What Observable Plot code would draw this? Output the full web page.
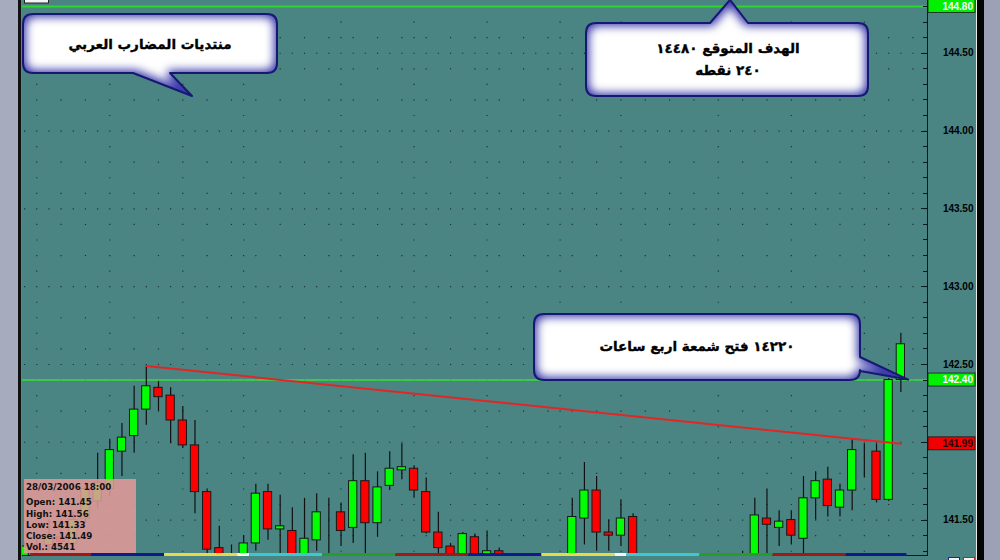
<!DOCTYPE html>
<html>
<head>
<meta charset="utf-8">
<script src="https://cdn.jsdelivr.net/npm/d3@7"></script>
<script src="https://cdn.jsdelivr.net/npm/@observablehq/plot@0.6"></script>
<style>
  html, body { margin: 0; padding: 0; background: #4a8583; overflow: hidden; }
  #chart { position: relative; width: 1000px; height: 560px; }
  #chart svg { display: block; }
</style>
</head>
<body>
<div id="chart"></div>
<script>
// USD/JPY 4-hour candles, oldest first (index = candle slot on the time axis)
const opens  = [141.27,141.34,141.34,141.39,141.35,141.51,141.62,141.70,141.94,142.04,
                142.21,142.35,142.30,142.14,141.98,141.68,141.32,141.26,141.25,141.35,
                141.68,141.44,141.43,141.25,141.37,141.55,141.55,141.45,141.75,141.48,
                141.72,141.82,141.83,141.68,141.42,141.33,141.25,141.39,141.25,141.30,
                141.26,141.18,141.12,141.16,141.14,141.22,141.51,141.69,141.42,141.40,
                141.52,141.24,141.16,141.10,141.14,141.20,141.13,141.18,141.21,141.19,
                141.24,141.51,141.45,141.50,141.38,141.64,141.76,141.58,141.69,141.93,
                141.94,141.63,142.40];
const highs  = [141.36,141.38,141.50,141.44,141.55,141.74,141.93,142.02,142.12,142.36,
                142.49,142.39,142.35,142.23,142.14,141.70,141.46,141.34,141.40,141.73,
                141.73,141.66,141.58,141.64,141.67,141.64,141.61,141.92,141.93,141.81,
                141.94,141.99,141.85,141.77,141.55,141.35,141.42,141.41,141.43,141.32,
                141.27,141.24,141.20,141.25,141.27,141.64,141.87,141.78,141.50,141.63,
                141.54,141.27,141.22,141.18,141.24,141.26,141.22,141.25,141.27,141.30,
                141.64,141.70,141.56,141.56,141.78,141.81,141.84,141.73,142.02,141.99,
                141.99,142.41,142.70];
const lows   = [141.22,141.26,141.30,141.32,141.32,141.48,141.58,141.65,141.78,141.93,
                142.11,142.20,141.99,141.96,141.54,141.26,141.22,141.18,141.20,141.30,
                141.37,141.25,141.22,141.22,141.30,141.26,141.33,141.35,141.25,141.39,
                141.69,141.76,141.64,141.41,141.25,141.20,141.20,141.20,141.20,141.18,
                141.12,141.08,141.05,141.10,141.08,141.18,141.34,141.30,141.30,141.33,
                141.18,141.12,141.06,141.02,141.08,141.10,141.05,141.10,141.14,141.12,
                141.20,141.26,141.33,141.34,141.28,141.50,141.52,141.52,141.56,141.77,
                141.61,141.62,142.32];
const closes = [141.33,141.30,141.40,141.36,141.50,141.70,141.74,141.95,142.03,142.21,
                142.36,142.29,142.14,141.98,141.68,141.31,141.27,141.22,141.35,141.67,
                141.44,141.46,141.26,141.38,141.55,141.55,141.43,141.75,141.48,141.71,
                141.83,141.84,141.69,141.42,141.32,141.25,141.41,141.25,141.30,141.26,
                141.18,141.12,141.16,141.14,141.22,141.52,141.69,141.42,141.40,141.51,
                141.24,141.16,141.10,141.14,141.20,141.13,141.18,141.21,141.19,141.24,
                141.53,141.47,141.49,141.40,141.64,141.75,141.59,141.69,141.95,141.93,
                141.63,142.40,142.63];

// candle under the cursor, shown in the data window
const cursorIndex = 62;
const cursorStamp = "28/03/2006 18:00";
const cursorVolume = 4541;

// price axis labels and horizontal levels
const priceLabels = [141.5, 142.5, 143.0, 143.5, 144.0, 144.5];
const targetLevel = 144.80;
const openLevel = 142.40;
const tagValues = [144.80, 142.40, 141.99];

// falling trendline drawn from the swing high
const trendIndex = [10, 72];
const trendPrice = [142.49, 141.99];

// first candle of each trading day (vertical dotted grid)
const dayStarts = [1, 7, 13, 18, 26, 32, 38, 44, 49, 57, 63, 69];

// session bar under the candles: start / end slot of each session
const sessionStart = [0.5, 5.5, 11.5, 17.5, 18.5, 24.5, 30.5, 36.5, 42.5, 48.5, 49.5, 55.5, 61.5, 67.5];
const sessionEnd   = [5.5, 11.5, 17.5, 18.5, 24.5, 30.5, 36.5, 42.5, 48.5, 49.5, 55.5, 61.5, 67.5, 72.5];
const sessionColors = ["#a01818", "#101a8a", "#e8d84a", "#f4f4f4", "#3cc8d0", "#2a9a2a", "#a01818",
                       "#101a8a", "#e8d84a", "#f4f4f4", "#3cc8d0", "#2a9a2a", "#a01818", "#101a8a"];

const W = 1000, H = 560;
const BG = "#4a8583";

const candles = opens.map((o, i) => ({i, o, h: highs[i], l: lows[i], c: closes[i]}));
const trend = trendIndex.map((i, k) => ({i, p: trendPrice[k]}));

// dotted grid: every slot on half-point rows, every other slot on even tenths,
// and dots on each tenth along the day columns
const gridDots = [];
for (let k = 1413; k <= 1447; k++) {
  const p = k / 10;
  for (let i = 0; i <= 74; i++) {
    const col = dayStarts.includes(i);
    if (k % 5 === 0 || col || (k % 2 === 0 && i % 2 === 1)) gridDots.push({i, p});
  }
}

const chart = Plot.plot({
  width: W,
  height: H,
  marginLeft: 22,
  marginRight: 73,
  marginTop: 0,
  marginBottom: 5,
  x: {domain: [-0.173, 74.19], axis: null},
  y: {domain: [141.2725, 144.839], axis: null},
  color: {type: "identity"},
  style: {background: BG, fontFamily: "Liberation Sans, sans-serif", overflow: "visible"},
  marks: [
    Plot.dot(gridDots, {x: "i", y: "p", r: 0.65, symbol: "square", fill: "#173232"}),
    Plot.ruleY([targetLevel], {stroke: "#2fd42f", strokeWidth: 2}),
    Plot.ruleY([openLevel], {stroke: "#3ddc3d", strokeWidth: 1.5}),
    Plot.ruleX(candles, {x: "i", y1: "l", y2: "h", stroke: "#101010", strokeWidth: 1.2, clip: true}),
    Plot.rect(candles, {
      x1: d => d.i - 0.34, x2: d => d.i + 0.34, y1: "o", y2: "c",
      fill: d => d.c >= d.o ? "#00ff00" : "#ff0000",
      stroke: "#181818", strokeWidth: 1, clip: true
    }),
    Plot.line(trend, {x: "i", y: "p", stroke: "#e22626", strokeWidth: 2}),
    Plot.text(priceLabels, {
      y: d => d, frameAnchor: "right", dx: 46, textAnchor: "end",
      text: d => d.toFixed(2), fontWeight: "bold", fontSize: 10, fill: "#000"
    })
  ]
});

document.getElementById("chart").appendChild(chart);

const svg = d3.select(chart);
const xs = chart.scale("x"), ys = chart.scale("y");
const px = v => xs.apply(v), py = v => ys.apply(v);
const plotRight = W - 73, plotBottom = H - 5;

// window chrome around the plot
const chrome = svg.append("g");
chrome.append("rect").attr("x", 0).attr("y", 0).attr("width", 18).attr("height", H).attr("fill", "#a7abbe");
chrome.append("rect").attr("x", 18).attr("y", 0).attr("width", 3).attr("height", H).attr("fill", "#111");
chrome.append("rect").attr("x", 21).attr("y", 0).attr("width", 1).attr("height", H).attr("fill", "#6e7f80");
chrome.append("line").attr("x1", plotRight + 0.5).attr("x2", plotRight + 0.5).attr("y1", 0).attr("y2", plotBottom)
  .attr("stroke", "#0c1a1a");
chrome.append("line").attr("x1", 22).attr("x2", plotRight + 1).attr("y1", plotBottom + 0.5).attr("y2", plotBottom + 0.5)
  .attr("stroke", "#0c1a1a");
chrome.append("rect").attr("x", 976).attr("y", 0).attr("width", 1).attr("height", H).attr("fill", "#e8e8e8");
chrome.append("rect").attr("x", 977).attr("y", 0).attr("width", 7).attr("height", H).attr("fill", "#050505");
chrome.append("rect").attr("x", 984).attr("y", 0).attr("width", 16).attr("height", H).attr("fill", "#9ca1b6");
// small title tab at the top-left corner
chrome.append("rect").attr("x", 24.5).attr("y", -2).attr("width", 24).attr("height", 5)
  .attr("fill", "#f4f4f4").attr("stroke", "#222").attr("stroke-width", 1);
// toolbar buttons bottom-right
chrome.append("rect").attr("x", 948.5).attr("y", 557.5).attr("width", 11).attr("height", 5)
  .attr("fill", "#f0f0ff").attr("stroke", "#2020a0");
chrome.append("rect").attr("x", 963.5).attr("y", 557.5).attr("width", 11).attr("height", 5)
  .attr("fill", "#fff0f0").attr("stroke", "#c02020");

// price axis ticks (inside the axis line)
const tickG = svg.append("g").attr("stroke", "#0c1a1a");
for (let k = 1413; k <= 1448; k++) {
  const y = Math.round(py(k / 10)) + 0.5;
  const len = k % 5 === 0 ? 6 : 4;
  tickG.append("line").attr("x1", plotRight - len).attr("x2", plotRight).attr("y1", y).attr("y2", y);
}

// coloured value tags on the price axis
const tagFill = ["#00f000", "#00f000", "#f00000"];
const tagText = ["#ffffff", "#ffffff", "#2a0000"];
tagValues.forEach((v, k) => {
  const y = py(v);
  svg.append("rect").attr("x", plotRight + 1).attr("y", y - 6.5).attr("width", 47).attr("height", 13)
    .attr("fill", tagFill[k]).attr("stroke", "#1a1a1a").attr("stroke-width", 0.8);
  svg.append("text").attr("x", 973).attr("y", y + 3.6).attr("text-anchor", "end")
    .attr("font-family", "Liberation Sans, sans-serif").attr("font-weight", "bold").attr("font-size", 10)
    .attr("fill", tagText[k]).text(v.toFixed(2));
});

// session bar along the bottom of the plot
sessionStart.forEach((s, k) => {
  svg.append("rect").attr("x", px(s)).attr("y", plotBottom - 2).attr("width", px(sessionEnd[k]) - px(s))
    .attr("height", 3).attr("fill", sessionColors[k]);
});

// data window for the candle under the cursor
const info = svg.append("g").attr("text-anchor", "start");
info.append("rect").attr("x", 24).attr("y", 479).attr("width", 112).attr("height", plotBottom - 2 - 479)
  .attr("fill", "#e49a98").attr("fill-opacity", 0.86);
const infoLines = [
  cursorStamp,
  `Open: ${opens[cursorIndex].toFixed(2)}`,
  `High: ${highs[cursorIndex].toFixed(2)}`,
  `Low: ${lows[cursorIndex].toFixed(2)}`,
  `Close: ${closes[cursorIndex].toFixed(2)}`,
  `Vol.: ${cursorVolume}`
];
const infoY = [490, 505, 516.5, 527.5, 538.5, 550];
infoLines.forEach((t, k) => {
  info.append("text").attr("x", 26).attr("y", infoY[k]).attr("text-anchor", "start")
    .attr("font-family", "DejaVu Sans, sans-serif").attr("font-weight", "bold").attr("font-size", 8.7)
    .attr("fill", "#111").text(t);
});

// speech-bubble annotations
const defs = svg.append("defs");
const glow = defs.append("filter").attr("id", "bubble-glow").attr("x", "-30%").attr("y", "-30%")
  .attr("width", "160%").attr("height", "160%");
glow.append("feMorphology").attr("operator", "erode").attr("radius", 3).attr("result", "shrunk");
glow.append("feGaussianBlur").attr("in", "shrunk").attr("stdDeviation", 5);

function bubblePath(b) {
  const {x0, y0, x1, y1, r, edge, a, c, tx, ty} = b;
  let d = `M${x0 + r},${y0}`;
  if (edge === "top") d += `L${a},${y0}L${tx},${ty}L${c},${y0}`;
  d += `L${x1 - r},${y0}Q${x1},${y0} ${x1},${y0 + r}`;
  if (edge === "right") d += `L${x1},${a}L${tx},${ty}L${x1},${c}`;
  d += `L${x1},${y1 - r}Q${x1},${y1} ${x1 - r},${y1}`;
  if (edge === "bottom") d += `L${c},${y1}L${tx},${ty}L${a},${y1}`;
  d += `L${x0 + r},${y1}Q${x0},${y1} ${x0},${y1 - r}L${x0},${y0 + r}Q${x0},${y0} ${x0 + r},${y0}Z`;
  return d;
}

const bubbles = [
  {x0: 23, y0: 14, x1: 277, y1: 73, r: 10, edge: "bottom", a: 133, c: 170, tx: 192, ty: 96,
   lines: ["منتديات المضارب العربي"], cx: 150, ly: [49]},
  {x0: 586, y0: 23, x1: 868, y1: 96, r: 10, edge: "top", a: 710, c: 748, tx: 730, ty: py(144.84),
   lines: ["الهدف المتوقع ١٤٤٨٠", "٢٤٠ نقطه"], cx: 728, ly: [53, 75]},
  {x0: 534, y0: 314, x1: 860, y1: 380, r: 10, edge: "right", a: 357, c: 371,
   tx: px(72.65), ty: py(openLevel),
   lines: ["١٤٢٢٠ فتح شمعة اربع ساعات"], cx: 697, ly: [351]}
];

bubbles.forEach((b, k) => {
  const d = bubblePath(b);
  defs.append("clipPath").attr("id", `bubble-clip-${k}`).append("path").attr("d", d);
  const g = svg.append("g");
  g.append("path").attr("d", d).attr("fill", "#3a3aaa");
  g.append("path").attr("d", d).attr("fill", "#ffffff").attr("filter", "url(#bubble-glow)")
    .attr("clip-path", `url(#bubble-clip-${k})`);
  g.append("path").attr("d", d).attr("fill", "none").attr("stroke", "#181874").attr("stroke-width", 2)
    .attr("stroke-linejoin", "round");
  b.lines.forEach((t, j) => {
    g.append("text").attr("x", b.cx).attr("y", b.ly[j]).attr("text-anchor", "middle")
      .attr("direction", "rtl").style("unicode-bidi", "embed")
      .attr("font-family", "DejaVu Sans, sans-serif").attr("font-weight", "bold").attr("font-size", 13.5)
      .attr("fill", "#000").attr("stroke", "#000").attr("stroke-width", 0.35).text(t);
  });
});
</script>
</body>
</html>
